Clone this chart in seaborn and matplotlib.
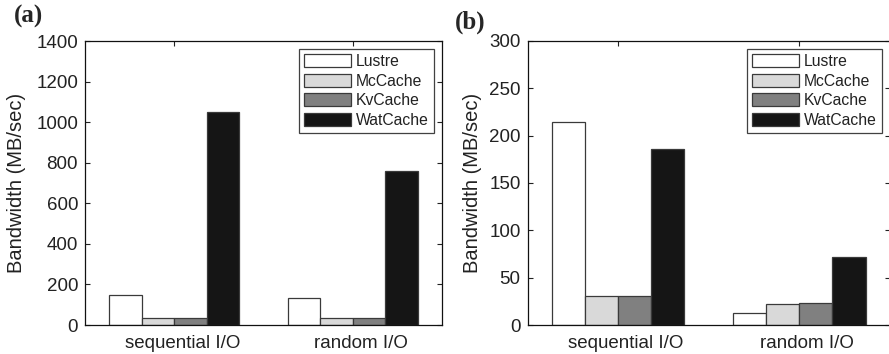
import matplotlib
matplotlib.use("Agg")
import matplotlib.pyplot as plt
import matplotlib.transforms as mtransforms
import seaborn as sns
import pandas as pd

categories = ["sequential I/O", "random I/O"]
systems = ["Lustre", "McCache", "KvCache", "WatCache"]
panel_a = {
    "Lustre": [147, 132],
    "McCache": [33, 33],
    "KvCache": [33, 33],
    "WatCache": [1052, 758],
}
panel_b = {
    "Lustre": [214, 12.3],
    "McCache": [30.2, 21.8],
    "KvCache": [30.6, 22.9],
    "WatCache": [186, 71.8],
}
colors = ["#ffffff", "#d9d9d9", "#808080", "#151515"]

sns.set_theme(style="white")
plt.rcParams["font.family"] = ["Liberation Sans", "DejaVu Sans"]

def to_df(d):
    rows = []
    for s in systems:
        for c, v in zip(categories, d[s]):
            rows.append({"cat": c, "sys": s, "val": v})
    return pd.DataFrame(rows)

fig = plt.figure(figsize=(8.89, 3.54), dpi=100)
axA = fig.add_axes([85/889, 1-325/354, (442-85)/889, (325-41)/354])
axB = fig.add_axes([527.5/889, 1-325/354, (890-527.5)/889, (325-41)/354])

for ax, data, ymax, yt in [(axA, panel_a, 1400, range(0, 1401, 200)),
                           (axB, panel_b, 300, range(0, 301, 50))]:
    df = to_df(data)
    sns.barplot(data=df, x="cat", y="val", hue="sys", order=categories,
                hue_order=systems, palette=colors, width=0.73,
                edgecolor="#3a3a3a", linewidth=0.9, saturation=1,
                ax=ax, legend=True)
    ax.set_xlim(-0.5, 1.5)
    ax.set_ylim(0, ymax)
    ax.set_yticks(list(yt))
    ax.set_xlabel("")
    ax.set_ylabel("Bandwidth (MB/sec)", fontsize=14.5, color="#222222")
    ax.tick_params(axis="both", direction="in", length=3.5, width=0.8,
                   top=True, right=True, bottom=True, left=True,
                   labelsize=13.5, colors="#222222", pad=5)
    ax.tick_params(axis="x", pad=7)
    offset = mtransforms.ScaledTranslation(8/100, 0, fig.dpi_scale_trans)
    for lbl in ax.get_xticklabels():
        lbl.set_transform(lbl.get_transform() + offset)
    for sp in ax.spines.values():
        sp.set_color("#111111")
        sp.set_linewidth(0.9)
    leg = ax.legend(loc="upper right", fontsize=11.3, frameon=True,
                    fancybox=False, edgecolor="#111111",
                    handlelength=3.0, handleheight=0.9, handletextpad=0.3,
                    labelspacing=0.28, borderpad=0.35, borderaxespad=0.5)
    leg.get_frame().set_linewidth(0.9)
    for t in leg.get_texts():
        t.set_color("#222222")

axA.yaxis.set_label_coords(-0.165, 0.5)
axB.yaxis.set_label_coords(-0.125, 0.5)

fig.text(14/889, 1-16/354, "(a)", fontsize=18, fontweight="bold",
         family=["Liberation Serif"], va="center", ha="left")
fig.text(455/889, 1-22/354, "(b)", fontsize=18, fontweight="bold",
         family=["Liberation Serif"], va="center", ha="left")

fig.savefig("out.png", dpi=100)
